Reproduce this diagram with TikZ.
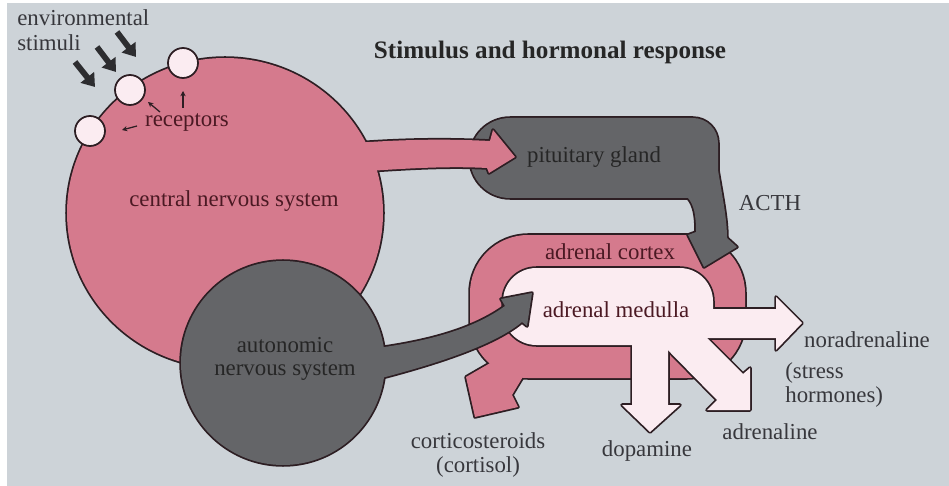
\documentclass[tikz,border=0pt]{standalone}
\usepackage{fontspec}
\setmainfont{Liberation Serif}
\usetikzlibrary{arrows.meta}
\definecolor{bgc}{RGB}{205,211,216}
\definecolor{pinkc}{RGB}{213,122,141}
\definecolor{darkc}{RGB}{100,101,104}
\definecolor{medc}{RGB}{251,236,241}
\definecolor{outl}{RGB}{45,30,35}
\definecolor{txtc}{RGB}{55,55,60}
\definecolor{maroon}{RGB}{75,25,35}
\definecolor{stimc}{RGB}{45,45,48}
\begin{document}
\begin{tikzpicture}[x=0.02cm,y=-0.02cm,
  lbl/.style={font=\fontsize{13}{14.2}\selectfont, text=txtc, inner sep=0pt, align=center},
  ustroke/.style={draw=outl, line width=2pt, line join=round},
  recep/.style={circle, draw=outl, line width=1pt, fill=medc, minimum size=30*0.02cm, inner sep=0pt},
  stim/.style={draw=stimc, line width=3.3pt, -{Triangle[length=7pt,width=9.5pt]}},
  rarrow/.style={draw=outl, line width=0.7pt, -{Stealth[length=3pt,width=3pt]}}]
% background
\fill[white] (0,0) rectangle (949,486);
\fill[bgc] (7,3) rectangle (949,486);
\useasboundingbox (0,0) rectangle (949,486);

% adrenal cortex + corticosteroid arrow
\def\cortexA{(470,235) [rounded corners=33pt] rectangle (745,378)}
\def\cortexB{(504,342) -- (492,362) -- (466,377) -- (475,417) -- (518,407) -- (512,395) -- (530,365) -- cycle}
\path[ustroke] \cortexA; \path[ustroke] \cortexB;
\fill[pinkc] \cortexA; \fill[pinkc] \cortexB;

% pituitary gland + ACTH arrow
\def\pit{(510,118) -- (693,118) arc[start angle=270, end angle=360, radius=25]
  -- (718,170) .. controls (722,195) and (727,218) .. (727,238) -- (737,247) -- (704,267)
  -- (688,235) -- (696,232) .. controls (696,215) and (694,205) .. (688,198)
  -- (510,198) arc[start angle=90, end angle=270, radius=40] -- cycle}
\path[ustroke] \pit;
\fill[darkc] \pit;

% central nervous system + arrow
\def\cnsA{(225,213) ellipse[x radius=158, y radius=155]}
\def\cnsB{(355,143) .. controls (410,139) and (450,139) .. (490,141) -- (493,130) -- (515,157)
  -- (489,173) -- (487,168) .. controls (450,166) and (410,168) .. (355,172) -- cycle}
\path[ustroke] \cnsA; \path[ustroke] \cnsB;
\fill[pinkc] \cnsA; \fill[pinkc] \cnsB;

% adrenal medulla + white arrows
\def\medA{(503,268) [rounded corners=19pt] rectangle (713,345)}
\def\medB{(690,309) -- (776,309) -- (776,297) -- (802,323) -- (776,350) -- (776,338) -- (690,338) -- cycle}
\def\medC{(632,330) -- (632,405) -- (622,405) -- (650,432) -- (680,405) -- (668,405) -- (668,330) -- cycle}
\def\medD{(655,337) -- (717,400) -- (707,410) -- (750,410) -- (750,368) -- (743,374) -- (692,323) -- cycle}
\path[ustroke] \medA; \path[ustroke] \medB; \path[ustroke] \medC; \path[ustroke] \medD;
\fill[medc] \medA; \fill[medc] \medB; \fill[medc] \medC; \fill[medc] \medD;

% autonomic nervous system + arrow
\def\ansA{(283,363) circle[radius=102]}
\def\ansB{(370,349) .. controls (425,342) and (472,330) .. (505,306) -- (501,299) -- (532,293)
  -- (527,326) -- (522,322) .. controls (497,343) and (445,362) .. (370,381) -- cycle}
\path[ustroke] \ansA; \path[ustroke] \ansB;
\fill[darkc] \ansA; \fill[darkc] \ansB;

% receptors
\node[recep] (r1) at (183,63) {};
\node[recep] (r2) at (130,90) {};
\node[recep] (r3) at (90,131) {};

% stimuli arrows
\coordinate (s1a) at (117,32); \coordinate (s1b) at (136,57);
\coordinate (s2a) at (97,47);  \coordinate (s2b) at (116,72);
\coordinate (s3a) at (75,62);  \coordinate (s3b) at (95,87);
\draw[stim] (s1a) -- (s1b);
\draw[stim] (s2a) -- (s2b);
\draw[stim] (s3a) -- (s3b);

% labels
\node[lbl, anchor=west, align=left] (env) at (17,30) {environmental\\stimuli};
\node[lbl, font=\fontsize{14.3}{16}\selectfont\bfseries, text=black!85] (title) at (550,52) {Stimulus and hormonal response};
\node[lbl, text=maroon] (rec) at (187,123) {receptors};
\coordinate (ra1) at (160,112); \coordinate (rb1) at (148,102);
\coordinate (ra2) at (183,108); \coordinate (rb2) at (183,91);
\coordinate (ra3) at (137,126); \coordinate (rb3) at (122,130);
\draw[rarrow] (ra1) -- (rb1);
\draw[rarrow] (ra2) -- (rb2);
\draw[rarrow] (ra3) -- (rb3);
\node[lbl, text=maroon] (cnsl) at (234,201) {central nervous system};
\node[lbl, text=black!85] (pitl) at (594,157) {pituitary gland};
\node[lbl] (acth) at (770,203) {ACTH};
\node[lbl, text=maroon] (cort) at (610,252) {adrenal cortex};
\node[lbl, text=maroon] (medl) at (616,310) {adrenal medulla};
\node[lbl, text=black!85, font=\fontsize{13}{13.3}\selectfont] (ansl) at (285,359) {autonomic\\nervous system};
\node[lbl] (nor) at (867,340) {noradrenaline};
\node[lbl, anchor=west, align=left] (stress) at (785,385) {(stress\\hormones)};
\node[lbl] (adr) at (770,432) {adrenaline};
\node[lbl] (dop) at (647,451) {dopamine};
\node[lbl, font=\fontsize{13}{13.6}\selectfont] (cortic) at (478,455) {corticosteroids\\(cortisol)};
\end{tikzpicture}
\end{document}
